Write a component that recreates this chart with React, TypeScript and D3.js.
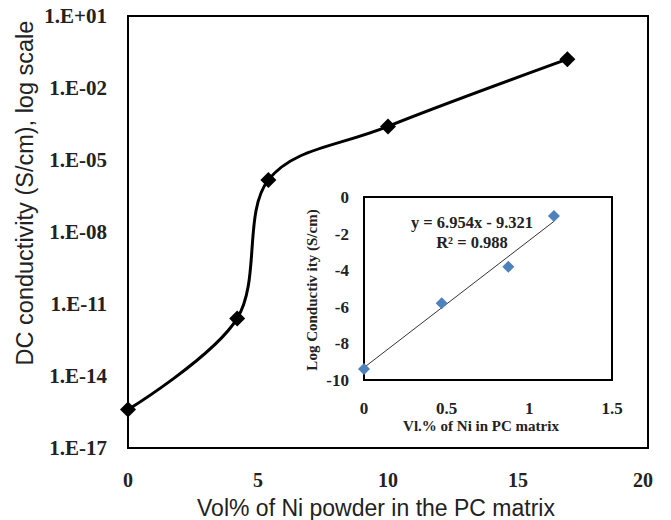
import React from "react";
import * as d3 from "d3";

const mainX = [0, 4.2, 5.4, 10, 16.9];
const mainLogY = [-15.4, -11.6, -5.83, -3.6, -0.8];
const mainYTicks = [1, -2, -5, -8, -11, -14, -17];
const mainYTickLabels = ["1.E+01", "1.E-02", "1.E-05", "1.E-08", "1.E-11", "1.E-14", "1.E-17"];
const mainXTicks = [0, 5, 10, 15, 20];

const insetX = [0, 0.47, 0.873, 1.149];
const insetY = [-9.4, -5.81, -3.81, -1.04];
const insetXTicks = [0, 0.5, 1, 1.5];
const insetXTickLabels = ["0", "0.5", "1", "1.5"];
const insetYTicks = [0, -2, -4, -6, -8, -10];
const fitSlope = 6.954;
const fitIntercept = -9.321;

const serif = "'Liberation Serif', 'Times New Roman', serif";
const sans = "'Liberation Sans', Arial, sans-serif";

export default function App() {
  const W = 671, H = 520;
  const x = d3.scaleLinear().domain([0, 20]).range([128, 648]);
  const y = d3.scaleLinear().domain([-17, 1]).range([448, 16]);
  const pts: [number, number][] = mainX.map((v, i) => [x(v), y(mainLogY[i])]);
  const line = d3.line().curve(d3.curveCatmullRom.alpha(0))(pts) || "";

  const ix = d3.scaleLinear().domain([0, 1.5]).range([364, 612]);
  const iy = d3.scaleLinear().domain([-10, 0]).range([380, 197]);
  const fitX0 = insetX[0], fitX1 = insetX[insetX.length - 1];
  const diamond = (cx: number, cy: number, r: number) =>
    `M${cx},${cy - r}L${cx + r},${cy}L${cx},${cy + r}L${cx - r},${cy}Z`;

  return (
    <svg width={W} height={H} style={{ position: "absolute", left: 0, top: 0, background: "#fff" }}>
      <rect x={0} y={0} width={W} height={H} fill="#fff" />
      {/* main frame */}
      <rect x={128} y={16} width={520} height={432} fill="none" stroke="#000" strokeWidth={2} />
      {mainYTicks.map((t, i) => (
        <text key={t} x={107} y={y(t)} dy="0.35em" textAnchor="end" fontFamily={serif} fontWeight="bold" fontSize={21} fill="#222">
          {mainYTickLabels[i]}
        </text>
      ))}
      {mainXTicks.map((t) => (
        <text key={t} x={x(t) - (t === 20 ? 5 : 0)} y={480} dy="0.35em" textAnchor="middle" fontFamily={serif} fontWeight="bold" fontSize={20} fill="#222">
          {t}
        </text>
      ))}
      <text x={376} y={508} dy="0.35em" textAnchor="middle" fontFamily={sans} fontSize={23} fill="#222">
        Vol% of Ni powder in the PC matrix
      </text>
      <text transform={`translate(25,193) rotate(-90)`} dy="0.35em" textAnchor="middle" fontFamily={sans} fontSize={23.5} fill="#222">
        DC conductivity (S/cm), log scale
      </text>
      <path d={line} fill="none" stroke="#000" strokeWidth={3} />
      {pts.map(([px, py], i) => (
        <path key={i} d={diamond(px, py, 8)} fill="#000" />
      ))}

      {/* inset */}
      <rect x={364} y={197} width={248} height={183} fill="#fff" stroke="#000" strokeWidth={2} />
      {insetYTicks.map((t) => (
        <text key={t} x={349} y={iy(t)} dy="0.35em" textAnchor="end" fontFamily={serif} fontWeight="bold" fontSize={17} fill="#222">
          {t}
        </text>
      ))}
      {insetXTicks.map((t, i) => (
        <text key={t} x={ix(t)} y={408} dy="0.35em" textAnchor="middle" fontFamily={serif} fontWeight="bold" fontSize={17} fill="#222">
          {insetXTickLabels[i]}
        </text>
      ))}
      <text x={481} y={426} dy="0.35em" textAnchor="middle" fontFamily={serif} fontWeight="bold" fontSize={15} fill="#222">
        Vl.% of Ni in PC matrix
      </text>
      <text transform={`translate(312,290) rotate(-90)`} dy="0.35em" textAnchor="middle" fontFamily={serif} fontWeight="bold" fontSize={15} fill="#222">
        Log Conductiv ity (S/cm)
      </text>
      <line x1={ix(fitX0)} y1={iy(fitSlope * fitX0 + fitIntercept)} x2={ix(fitX1)} y2={iy(fitSlope * fitX1 + fitIntercept)} stroke="#333" strokeWidth={1} />
      {insetX.map((v, i) => (
        <path key={i} d={diamond(ix(v), iy(insetY[i]), 6)} fill="#4F81BD" />
      ))}
      <text x={472} y={222} dy="0.35em" textAnchor="middle" fontFamily={serif} fontWeight="bold" fontSize={16.5} fill="#222">
        y = 6.954x - 9.321
      </text>
      <text x={472} y={242} dy="0.35em" textAnchor="middle" fontFamily={serif} fontWeight="bold" fontSize={16.5} fill="#222">
        R² = 0.988
      </text>
    </svg>
  );
}
